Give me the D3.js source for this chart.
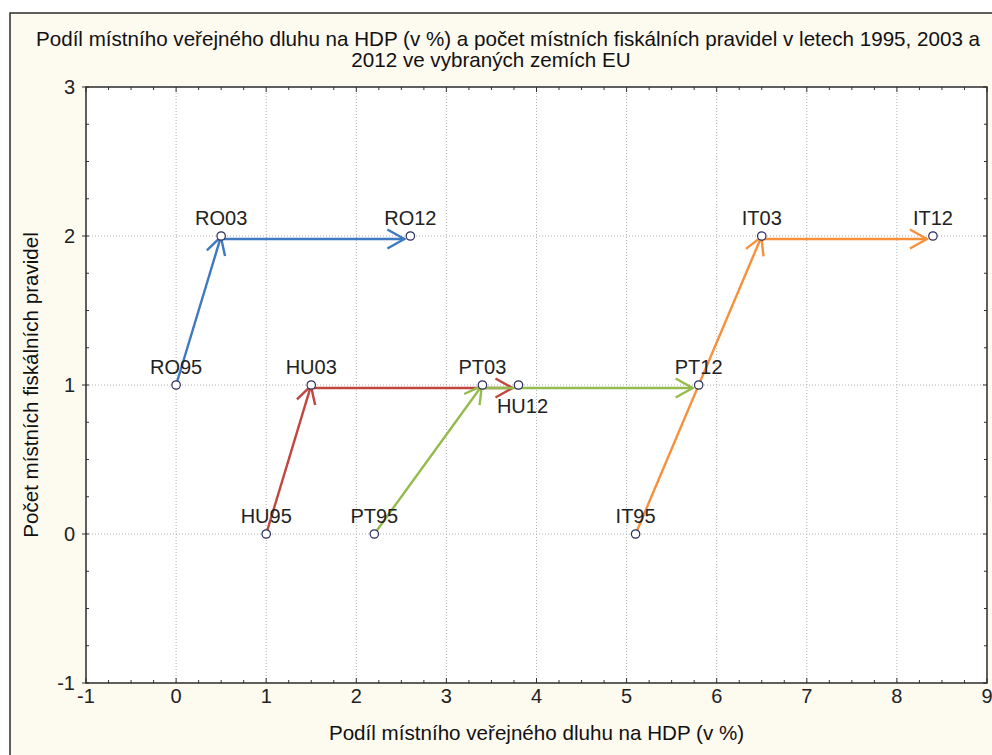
<!DOCTYPE html>
<html><head><meta charset="utf-8">
<script src="https://cdn.jsdelivr.net/npm/d3@7"></script>
<style>body{margin:0;background:#fff;}svg{display:block;font-family:"Liberation Sans",Arial,sans-serif;}</style>
</head><body>
<svg id="c" width="992" height="755"></svg>
<script>
// ---- data ----
const countries = ["RO","HU","PT","IT"];
const years = ["95","03","12"];
const debtRO = [0, 0.5, 2.6];
const debtHU = [1, 1.5, 3.8];
const debtPT = [2.2, 3.4, 5.8];
const debtIT = [5.1, 6.5, 8.4];
const rulesRO = [1, 2, 2];
const rulesHU = [0, 1, 1];
const rulesPT = [0, 1, 1];
const rulesIT = [0, 2, 2];
const xTicks = [-1,0,1,2,3,4,5,6,7,8,9];
const yTicks = [-1,0,1,2,3];
const titleLines = ["Podíl místního veřejného dluhu na HDP (v %) a počet místních fiskálních pravidel v letech 1995, 2003 a","2012 ve vybraných zemích EU"];
const xTitle = "Podíl místního veřejného dluhu na HDP (v %)";
const yTitle = "Počet místních fiskálních pravidel";
const colors = {RO:"#3f79bf", HU:"#c0463f", PT:"#95bb4c", IT:"#f7903a"};
const debt = {RO:debtRO, HU:debtHU, PT:debtPT, IT:debtIT};
const rules = {RO:rulesRO, HU:rulesHU, PT:rulesPT, IT:rulesIT};

const svg = d3.select("#c");
const L=86, R=987, T=87, B=683;
const x = d3.scaleLinear().domain([-1,9]).range([L,R]);
const y = d3.scaleLinear().domain([-1,3]).range([B,T]);

// frame
svg.append("rect").attr("x",10).attr("y",13).attr("width",1010).attr("height",800)
  .attr("fill","#fdfaf0").attr("stroke","#2b2b2b").attr("stroke-width",1.5);
svg.append("rect").attr("x",L).attr("y",T).attr("width",R-L).attr("height",B-T).attr("fill","#fff");

// grid
const g = svg.append("g");
xTicks.slice(1,-1).forEach(v=>g.append("line").attr("x1",x(v)).attr("x2",x(v)).attr("y1",T).attr("y2",B)
  .attr("stroke","#b0b0b0").attr("stroke-dasharray","1,2"));
yTicks.slice(1,-1).forEach(v=>g.append("line").attr("y1",y(v)).attr("y2",y(v)).attr("x1",L).attr("x2",R)
  .attr("stroke","#b0b0b0").attr("stroke-dasharray","1,2"));

// axes ticks (minor every 0.25)
const minorX = d3.range(-1,9.001,0.25), minorY = d3.range(-1,3.001,0.25);
const tk = svg.append("g").attr("stroke","#333").attr("stroke-width",1);
minorX.forEach(v=>{
  const maj = Math.abs(v-Math.round(v))<1e-6;
  const len = maj?5:3;
  tk.append("line").attr("x1",x(v)).attr("x2",x(v)).attr("y1",B).attr("y2",B-len);
  tk.append("line").attr("x1",x(v)).attr("x2",x(v)).attr("y1",T).attr("y2",T+len);
});
minorY.forEach(v=>{
  const maj = Math.abs(v-Math.round(v))<1e-6;
  if(maj){
    tk.append("line").attr("y1",y(v)).attr("y2",y(v)).attr("x1",L-4).attr("x2",L+3);
    tk.append("line").attr("y1",y(v)).attr("y2",y(v)).attr("x1",R-4).attr("x2",R);
  } else {
    tk.append("line").attr("y1",y(v)).attr("y2",y(v)).attr("x1",L).attr("x2",L+3);
    tk.append("line").attr("y1",y(v)).attr("y2",y(v)).attr("x1",R-3).attr("x2",R);
  }
});
svg.append("rect").attr("x",L).attr("y",T).attr("width",R-L).attr("height",B-T)
  .attr("fill","none").attr("stroke","#2b2b2b").attr("stroke-width",1.5);

// tick labels
xTicks.forEach(v=>svg.append("text").attr("x",x(v)).attr("y",B+20).attr("text-anchor","middle")
  .attr("font-size",20).attr("fill","#222").text(v));
yTicks.forEach(v=>svg.append("text").attr("x",L-11).attr("y",y(v)+7).attr("text-anchor","end")
  .attr("font-size",20).attr("fill","#222").text(v));

// titles
svg.append("text").attr("x",508).attr("y",46).attr("text-anchor","middle")
  .attr("font-size",20.6).attr("fill","#111").text(titleLines[0]);
svg.append("text").attr("x",491).attr("y",67).attr("text-anchor","middle")
  .attr("font-size",20.6).attr("fill","#111").text(titleLines[1]);
svg.append("text").attr("x",(L+R)/2).attr("y",740).attr("text-anchor","middle").attr("font-size",20.6)
  .attr("fill","#111").text(xTitle);
svg.append("text").attr("transform",`translate(38,${(T+B)/2}) rotate(-90)`).attr("text-anchor","middle")
  .attr("font-size",20.6).attr("fill","#111").text(yTitle);

// arrows
function arrowHead(gr, x1,y1,x2,y2,col){
  const a = Math.atan2(y2-y1,x2-x1), len=17, hw=9.5;
  const bx = x2-len*Math.cos(a), by = y2-len*Math.sin(a);
  const px = -Math.sin(a)*hw, py = Math.cos(a)*hw;
  gr.append("path").attr("d",`M${bx+px},${by+py}L${x2},${y2}L${bx-px},${by-py}`)
    .attr("fill","none").attr("stroke",col).attr("stroke-width",2.4);
}
const lines = svg.append("g");
countries.forEach(c=>{
  for(let i=0;i<2;i++){
    let x1=x(debt[c][i]), y1=y(rules[c][i]), x2=x(debt[c][i+1]), y2=y(rules[c][i+1]);
    const horiz = y1===y2;
    if(horiz){ y1+=3; y2+=3; }
    const a=Math.atan2(y2-y1,x2-x1), sh = horiz?6:1;
    const ex = x2-sh*Math.cos(a), ey = y2-sh*Math.sin(a);
    lines.append("line").attr("x1",x1).attr("y1",y1).attr("x2",ex).attr("y2",ey)
      .attr("stroke",colors[c]).attr("stroke-width",2.4);
    arrowHead(lines,x1,y1,ex,ey,colors[c]);
  }
});

// markers and labels
countries.forEach(c=>{
  years.forEach((yr,i)=>{
    const px=x(debt[c][i]), py=y(rules[c][i]);
    svg.append("circle").attr("cx",px).attr("cy",py).attr("r",4.2)
      .attr("fill","#fff").attr("stroke","#2a2a5e").attr("stroke-width",1.2);
    const below = (c==="HU" && yr==="12");
    svg.append("text").attr("x",px+(below?4:0)).attr("y",below?py+28:py-11).attr("text-anchor","middle")
      .attr("font-size",20).attr("fill","#222").text(c+yr);
  });
});
</script>
</body></html>
